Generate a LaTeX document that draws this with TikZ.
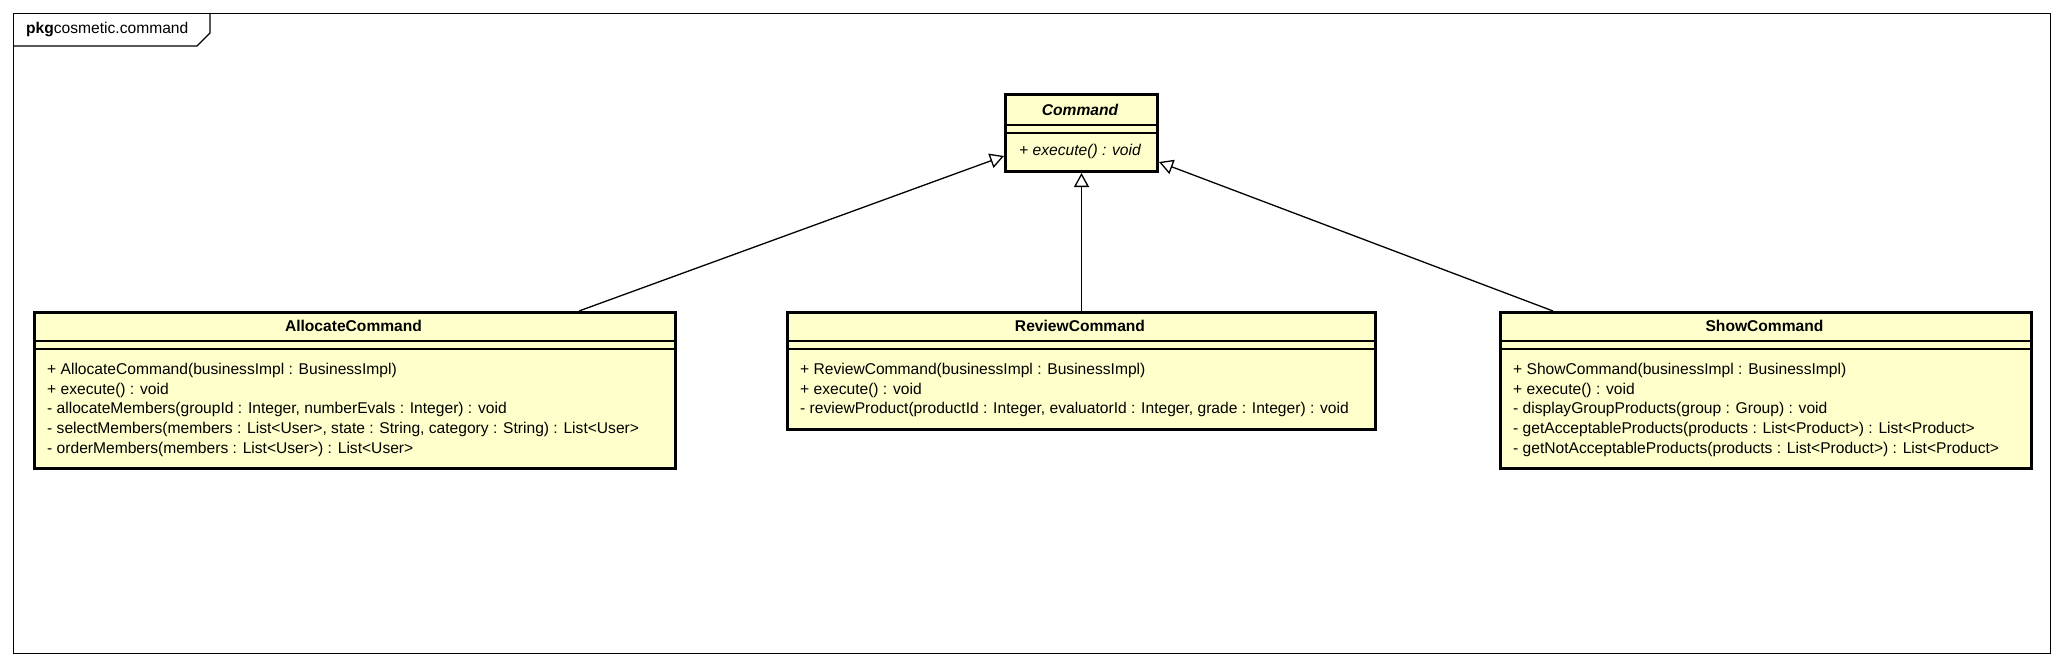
\documentclass[tikz,border=0pt]{standalone}
\usepackage{fontspec}
\setmainfont{Liberation Sans}
\usetikzlibrary{arrows.meta}
\definecolor{umlfill}{RGB}{255,255,204}
\tikzset{
  classbox/.style={draw=black, line width=3pt, fill=umlfill, rectangle, inner sep=0pt, anchor=north west},
  sepline/.style={line width=1.3pt},
  gen/.style={line width=1.3pt, -{Triangle[open, length=14pt, width=15pt, line width=1.3pt]}},
  txt/.style={inner sep=0pt, font=\fontsize{15.6}{19.7}\selectfont},
  opline/.style={txt, anchor=base west},
  title/.style={txt, font=\fontsize{15.6}{19.7}\selectfont\bfseries},
}
\begin{document}
\begin{tikzpicture}[x=1pt, y=-1pt]
\useasboundingbox (0,0) rectangle (2064,666);
% package frame
\node[draw=black, line width=1.3pt, rectangle, minimum width=2037pt, minimum height=640pt, anchor=north west, inner sep=0pt] (frame) at (13,13) {};
\draw[line width=1.3pt] (13,46) -- (197,46) -- (210,33) -- (210,13);
\node[txt, anchor=west] (pkglabel) at (26,30) {\textbf{pkg}cosmetic.command};

% Command
\node[classbox, minimum width=152pt, minimum height=77pt] (cmd) at (1004,93) {};
\draw[sepline] (1004,125) -- (1156,125);
\draw[sepline] (1004,133) -- (1156,133);
\node[txt, font=\fontsize{15.6}{19.7}\selectfont\bfseries\itshape] (cmdtitle) at (1080,110) {Command};
\node[txt, font=\fontsize{15.6}{19.7}\selectfont\itshape] (cmdops) at (1080,151) {+ execute() : void};

% AllocateCommand
\node[classbox, minimum width=641pt, minimum height=156pt] (alloc) at (33,311) {};
\draw[sepline] (33,341) -- (674,341);
\draw[sepline] (33,349) -- (674,349);
\node[title] (alloctitle) at (353.5,326) {AllocateCommand};
\node[opline] (a1) at (47,374.5) {+ AllocateCommand(businessImpl : BusinessImpl)};
\node[opline] (a2) at (47,394.2) {+ execute() : void};
\node[opline] (a3) at (47,413.9) {- allocateMembers(groupId : Integer, numberEvals : Integer) : void};
\node[opline] (a4) at (47,433.6) {- selectMembers(members : List<User>, state : String, category : String) : List<User>};
\node[opline] (a5) at (47,453.3) {- orderMembers(members : List<User>) : List<User>};

% ReviewCommand
\node[classbox, minimum width=588pt, minimum height=117pt] (rev) at (786,311) {};
\draw[sepline] (786,341) -- (1374,341);
\draw[sepline] (786,349) -- (1374,349);
\node[title] (revtitle) at (1080,326) {ReviewCommand};
\node[opline] (r1) at (800,374.5) {+ ReviewCommand(businessImpl : BusinessImpl)};
\node[opline] (r2) at (800,394.2) {+ execute() : void};
\node[opline] (r3) at (800,413.9) {- reviewProduct(productId : Integer, evaluatorId : Integer, grade : Integer) : void};

% ShowCommand
\node[classbox, minimum width=531pt, minimum height=156pt] (show) at (1499,311) {};
\draw[sepline] (1499,341) -- (2030,341);
\draw[sepline] (1499,349) -- (2030,349);
\node[title] (showtitle) at (1764.5,326) {ShowCommand};
\node[opline] (s1) at (1513,374.5) {+ ShowCommand(businessImpl : BusinessImpl)};
\node[opline] (s2) at (1513,394.2) {+ execute() : void};
\node[opline] (s3) at (1513,413.9) {- displayGroupProducts(group : Group) : void};
\node[opline] (s4) at (1513,433.6) {- getAcceptableProducts(products : List<Product>) : List<Product>};
\node[opline] (s5) at (1513,453.3) {- getNotAcceptableProducts(products : List<Product>) : List<Product>};

% generalizations
\draw[gen] ([xshift=546pt]alloc.north west) -- (cmd.west |- 0,156);
\draw[gen] (rev.north) -- (cmd.south);
\draw[gen] ([xshift=54pt]show.north west) -- (cmd.east |- 0,162);
\end{tikzpicture}
\end{document}
